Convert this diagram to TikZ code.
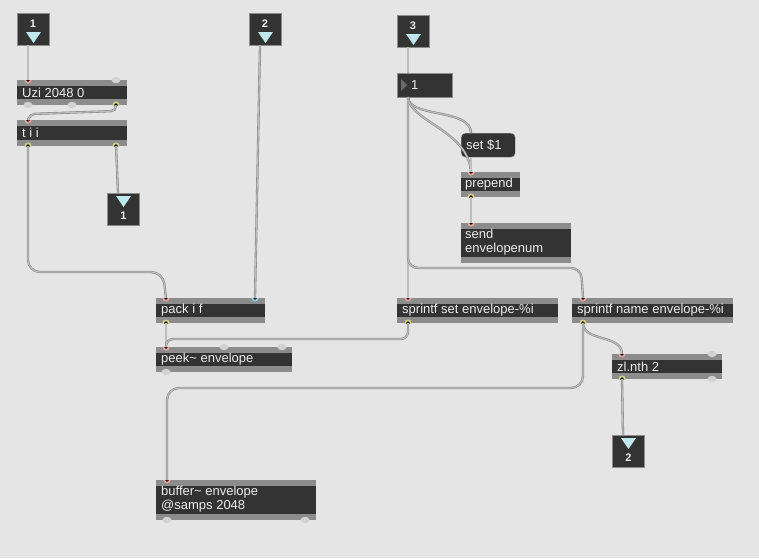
\documentclass[tikz,border=0pt]{standalone}
\usepackage{fontspec}
\setmainfont{Liberation Sans}
\definecolor{bgc}{HTML}{E5E5E5}
\definecolor{darkc}{HTML}{333333}
\definecolor{barc}{HTML}{8C8C8C}
\definecolor{txtc}{HTML}{EDEDED}
\definecolor{tric}{HTML}{BFE8EE}
\definecolor{cordout}{HTML}{8A8A8A}
\definecolor{cordin}{HTML}{BDBDBD}
\definecolor{inc}{HTML}{E8A2A2}
\definecolor{outc}{HTML}{CFCF86}
\definecolor{flc}{HTML}{86CFE0}
\definecolor{unc}{HTML}{D2D2D2}
\tikzset{
  txt/.style={text=txtc, font=\fontsize{13}{14}\selectfont, inner sep=0pt},
  numtxt/.style={text=txtc, font=\bfseries\fontsize{11}{13}\selectfont, inner sep=0pt},
  iobox/.style={fill=darkc, draw=barc, line width=0.6pt, minimum width=32pt, minimum height=32pt, inner sep=0pt},
  cord/.style={draw=cordout, double=cordin, double distance=1.1pt, line width=0.6pt, rounded corners=9pt},
}
% object box: name x y w h
\newcommand\mobj[5]{%
  \fill[barc] (#2,#3) rectangle ++(#4,#5);
  \fill[darkc] (#2,#3+6) rectangle ++(#4,#5-12);
  \node[anchor=north west, inner sep=0pt, minimum width=#4pt, minimum height=#5pt] (#1) at (#2,#3) {};
}
% inlet port (top edge) x y colour
\newcommand\inport[3]{%
  \begin{scope}\clip (#1-5,#2) rectangle (#1+5,#2+5);
  \fill[#3] (#1,#2) circle (3.6pt); \fill[black] (#1,#2) circle (1.8pt);\end{scope}}
\newcommand\outport[3]{%
  \begin{scope}\clip (#1-5,#2) rectangle (#1+5,#2-5);
  \fill[#3] (#1,#2) circle (3.6pt); \fill[black] (#1,#2) circle (1.8pt);\end{scope}}
\newcommand\unport[2]{%
  \begin{scope}\clip (#1-6,#2-4) rectangle (#1+6,#2+4);
  \fill[unc] (#1,#2) ellipse (4.5pt and 3.2pt);\end{scope}}
\newcommand\inletbox[4]{%
  \node[iobox, anchor=north west] (#1) at (#2,#3) {};
  \node[numtxt] at (#2+16,#3+11) {#4};
  \fill[tric] (#2+9,#3+19) -- (#2+24,#3+19) -- (#2+16.5,#3+30) -- cycle;}
\newcommand\outletbox[4]{%
  \node[iobox, anchor=north west] (#1) at (#2,#3) {};
  \fill[tric] (#2+9,#3+3) -- (#2+24,#3+3) -- (#2+16.5,#3+14) -- cycle;
  \node[numtxt] at (#2+16.5,#3+23) {#4};}
\begin{document}
\begin{tikzpicture}[x=1pt,y=-1pt]
\fill[bgc] (0,0) rectangle (759,558);
\useasboundingbox (0,0) rectangle (759,558);

% inlets / outlets
\inletbox{inA}{17}{13}{1}
\inletbox{inB}{249}{13}{2}
\inletbox{inC}{397}{15}{3}
\outletbox{outA}{107}{193}{1}
\outletbox{outB}{612}{435}{2}

% objects
\mobj{uzi}{17}{80}{110}{25}
\node[txt, anchor=west] at (22,92.5) {Uzi 2048 0};
\mobj{tii}{17}{120}{110}{26}
\node[txt, anchor=west] at (22,133) {t i i};
\mobj{pack}{156}{298}{109}{25}
\node[txt, anchor=west] at (161,310.5) {pack i f};
\mobj{sps}{397}{298}{161}{25}
\node[txt, anchor=west] at (402,310.5) {sprintf set envelope-\%i};
\mobj{spn}{572}{298}{161}{25}
\node[txt, anchor=west] at (577,310.5) {sprintf name envelope-\%i};
\mobj{peek}{156}{347}{136}{25}
\node[txt, anchor=west] at (161,359.5) {peek\textasciitilde{} envelope};
\mobj{zl}{612}{354}{110}{25}
\node[txt, anchor=west] at (617,366.5) {zl.nth 2};
\mobj{prep}{461}{172}{59}{25}
\node[txt, anchor=west] at (465,184.5) {prepend};
\mobj{send}{461}{223}{110}{40}
\node[txt, anchor=north west, align=left] at (465,229) {send\\envelopenum};
\mobj{buf}{156}{480}{160}{40}
\node[txt, anchor=north west, align=left] at (161,486) {buffer\textasciitilde{} envelope\\@samps 2048};

% number box
\node[fill=darkc, draw=barc, line width=0.4pt, anchor=north west, minimum width=55pt, minimum height=24pt, inner sep=0pt] (num) at (397,73) {};
\fill[gray!70!darkc] (401,79) -- (407,85) -- (401,91) -- cycle;
\node[txt, anchor=west] at (411,85) {1};

% message box
\node[fill=darkc, draw=barc!70, line width=0.4pt, rounded corners=4pt, anchor=north west, minimum width=54pt, minimum height=24pt, inner sep=0pt] (msg) at (461,133) {};
\node[txt, anchor=west] at (466,145) {set \$1};

% port coordinates
\coordinate (inA-o) at (28,45);
\coordinate (inB-o) at (260,45);
\coordinate (inC-o) at (408,47);
\coordinate (outA-i) at (118,193);
\coordinate (outB-i) at (623,435);
\coordinate (uzi-i) at (28,80);
\coordinate (uzi-o) at (116,105);
\coordinate (tii-i) at (28,120);
\coordinate (tii-oL) at (28,146);
\coordinate (tii-oR) at (116,146);
\coordinate (num-i) at (408,73);
\coordinate (num-o) at (408,97);
\coordinate (msg-i) at (471,133);
\coordinate (msg-o) at (471,157);
\coordinate (prep-i) at (471,172);
\coordinate (prep-o) at (471,197);
\coordinate (send-i) at (471,223);
\coordinate (pack-iL) at (166,298);
\coordinate (pack-iR) at (255,298);
\coordinate (pack-o) at (166,323);
\coordinate (sps-i) at (408,298);
\coordinate (sps-o) at (408,323);
\coordinate (spn-i) at (583,298);
\coordinate (spn-o) at (583,323);
\coordinate (peek-i) at (166,347);
\coordinate (zl-i) at (622,354);
\coordinate (zl-o) at (622,379);
\coordinate (buf-i) at (167,480);

% ports
\inport{28}{80}{inc}\unport{116}{80}\outport{116}{105}{outc}\unport{28}{105}\unport{72}{105}
\inport{28}{120}{inc}\outport{28}{146}{outc}\outport{116}{146}{outc}
\inport{166}{298}{inc}\inport{255}{298}{flc}\outport{166}{323}{outc}
\inport{408}{298}{inc}\outport{408}{323}{outc}
\inport{583}{298}{inc}\outport{583}{323}{outc}
\inport{166}{347}{inc}\unport{224}{347}\unport{282}{347}\unport{166}{372}
\inport{622}{354}{inc}\unport{712}{354}\outport{622}{379}{outc}\unport{712}{379}
\inport{471}{172}{inc}\outport{471}{197}{outc}
\inport{471}{223}{inc}
\inport{167}{480}{inc}\unport{167}{520}\unport{305}{520}

% cords
\draw[cord] (inA-o) -- (uzi-i);
\draw[cord] (inB-o) -- (pack-iR);
\draw[cord] (inC-o) -- (num-i);
\draw[cord, rounded corners=5pt] (uzi-o) -- (116,111) -- (30,114) -- (tii-i);
\draw[cord, rounded corners=12pt] (tii-oL) -- (28,272) -- (163,272) -- (pack-iL);
\draw[cord] (tii-oR) -- (outA-i);
\draw[cord, rounded corners=0pt] (num-o) .. controls (408,118) and (471,108) .. (msg-i);
\draw[cord, rounded corners=0pt] (num-o) .. controls (410,122) and (468,130) .. (prep-i);
\draw[cord] (msg-o) -- (prep-i);
\draw[cord] (num-o) -- (sps-i);
\draw[cord, rounded corners=10pt] (num-o) -- (408,268) -- (581,268) -- (spn-i);
\draw[cord] (prep-o) -- (send-i);
\draw[cord] (pack-o) -- (peek-i);
\draw[cord, rounded corners=7pt] (sps-o) -- (408,339) -- (166,339) -- (peek-i);
\draw[cord, rounded corners=0pt] (spn-o) .. controls (583,342) and (622,334) .. (zl-i);
\draw[cord, rounded corners=12pt] (spn-o) -- (583,388) -- (167,388) -- (buf-i);
\draw[cord] (zl-o) -- (outB-i);
\end{tikzpicture}
\end{document}
